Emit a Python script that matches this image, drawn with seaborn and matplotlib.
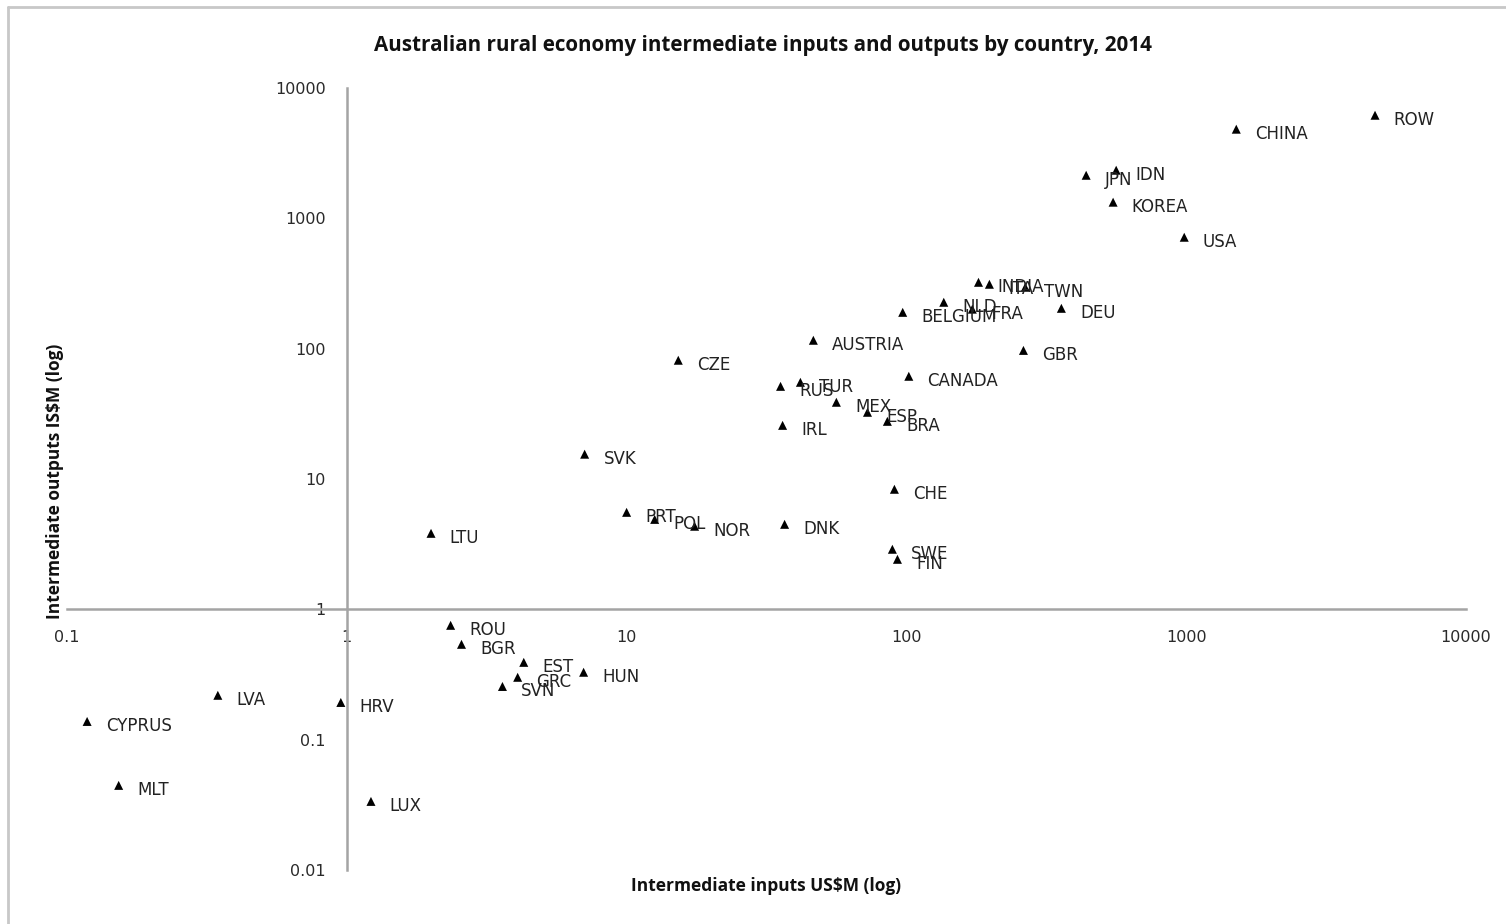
import matplotlib
matplotlib.use("Agg")
import matplotlib.pyplot as plt
import pandas as pd
import seaborn as sns
from matplotlib.lines import Line2D
from matplotlib.ticker import FixedLocator, NullLocator, FuncFormatter

# Australian rural economy: intermediate inputs vs outputs by trading partner, 2014 (US$M)
countries = [
    "ROW", "CHINA", "JPN", "IDN", "KOREA", "USA", "INDIA", "ITA", "TWN", "DEU",
    "NLD", "BELGIUM", "FRA", "AUSTRIA", "GBR", "CZE", "CANADA", "RUS", "TUR",
    "MEX", "ESP", "BRA", "IRL", "SVK", "CHE", "PRT", "POL", "NOR", "DNK", "LTU",
    "SWE", "FIN", "ROU", "BGR", "EST", "GRC", "SVN", "HUN", "LVA", "HRV",
    "CYPRUS", "MLT", "LUX",
]
inputs_usd = [
    4730, 1510, 439, 562, 548, 984, 181, 198, 266, 358,
    136, 97, 172, 46.5, 262, 15.3, 102, 35.5, 41.8,
    56.2, 72.6, 85.5, 36.1, 7.08, 90.6, 10.0, 12.6, 17.5, 36.7, 2.0,
    89.1, 92.9, 2.35, 2.57, 4.29, 4.08, 3.6, 7.02, 0.346, 0.952,
    0.118, 0.153, 1.22,
]
outputs_usd = [
    6180, 4830, 2140, 2340, 1330, 716, 323, 312, 296, 204,
    227, 190, 201, 116, 97, 81.5, 61.4, 51.4, 55.2,
    38.8, 32.5, 27.7, 25.8, 15.5, 8.34, 5.55, 4.9, 4.34, 4.49, 3.83,
    2.89, 2.42, 0.754, 0.539, 0.392, 0.301, 0.256, 0.329, 0.219, 0.193,
    0.138, 0.0446, 0.0336,
]
x_ticks = [0.1, 1, 10, 100, 1000, 10000]
y_ticks = [0.01, 0.1, 1, 10, 100, 1000, 10000]

title = "Australian rural economy intermediate inputs and outputs by country, 2014"
x_title = "Intermediate inputs US$M (log)"
y_title = "Intermediate outputs IS$M (log)"

df = pd.DataFrame({"country": countries, "inputs": inputs_usd, "outputs": outputs_usd})

sns.set_theme(style="white")
plt.rcParams["font.family"] = ["Open Sans", "DejaVu Sans"]
label_font = ["DejaVu Sans"]

W, H = 1506, 924
fig = plt.figure(figsize=(W / 100, H / 100), dpi=100)
fig.patch.set_facecolor("white")

ax = fig.add_axes([67 / W, 1 - 870 / H, (1466 - 67) / W, (870 - 88) / H])
sns.scatterplot(data=df, x="inputs", y="outputs", marker="^", color="black",
                s=42, edgecolor="none", ax=ax, legend=False, zorder=3)

ax.set_xscale("log")
ax.set_yscale("log")
ax.set_xlim(0.1, 10000)
ax.set_ylim(0.01, 10000)

axis_grey = "#a4a4a4"
for side in ("top", "right"):
    ax.spines[side].set_visible(False)
ax.spines["left"].set_position(("data", 1))
ax.spines["bottom"].set_position(("data", 1))
for side in ("left", "bottom"):
    ax.spines[side].set_color(axis_grey)
    ax.spines[side].set_linewidth(1.8)

ax.xaxis.set_major_locator(FixedLocator(x_ticks))
ax.yaxis.set_major_locator(FixedLocator(y_ticks))
ax.xaxis.set_minor_locator(NullLocator())
ax.yaxis.set_minor_locator(NullLocator())
fmt = FuncFormatter(lambda v, p: f"{v:g}")
ax.xaxis.set_major_formatter(fmt)
ax.yaxis.set_major_formatter(fmt)
ax.tick_params(axis="both", which="major", direction="out", length=4, width=1.5,
               color=axis_grey, labelsize=11.5, labelcolor="#2a2a2a")
ax.tick_params(axis="x", pad=11)
ax.tick_params(axis="y", pad=11)
for lbl in ax.get_xticklabels() + ax.get_yticklabels():
    lbl.set_family(label_font)
ax.set_xlabel("")
ax.set_ylabel("")

for name, xi, yi in zip(df["country"], df["inputs"], df["outputs"]):
    ax.annotate(name, (xi, yi), xytext=(13.5, -3.5), textcoords="offset points",
                ha="left", va="center", fontsize=12, family=label_font,
                color="#222222", zorder=4)

fig.text(763 / W, 1 - 45 / H, title, ha="center", va="center",
         fontsize=14.9, fontweight="bold", color="#111111")
fig.text(766 / W, 1 - 886 / H, x_title, ha="center", va="center",
         fontsize=12.5, fontweight="bold", color="#111111")
fig.text(55 / W, 1 - 481 / H, y_title, ha="center", va="center", rotation=90,
         fontsize=12.5, fontweight="bold", color="#111111")

# light frame around the chart area
frame_grey = "#c8c8c8"
fig.add_artist(Line2D([8 / W, 8 / W], [0, 1 - 7 / H], transform=fig.transFigure,
                      color=frame_grey, lw=2))
fig.add_artist(Line2D([8 / W, 1], [1 - 7 / H, 1 - 7 / H], transform=fig.transFigure,
                      color=frame_grey, lw=2))

fig.savefig("out.png", dpi=100, facecolor="white")
